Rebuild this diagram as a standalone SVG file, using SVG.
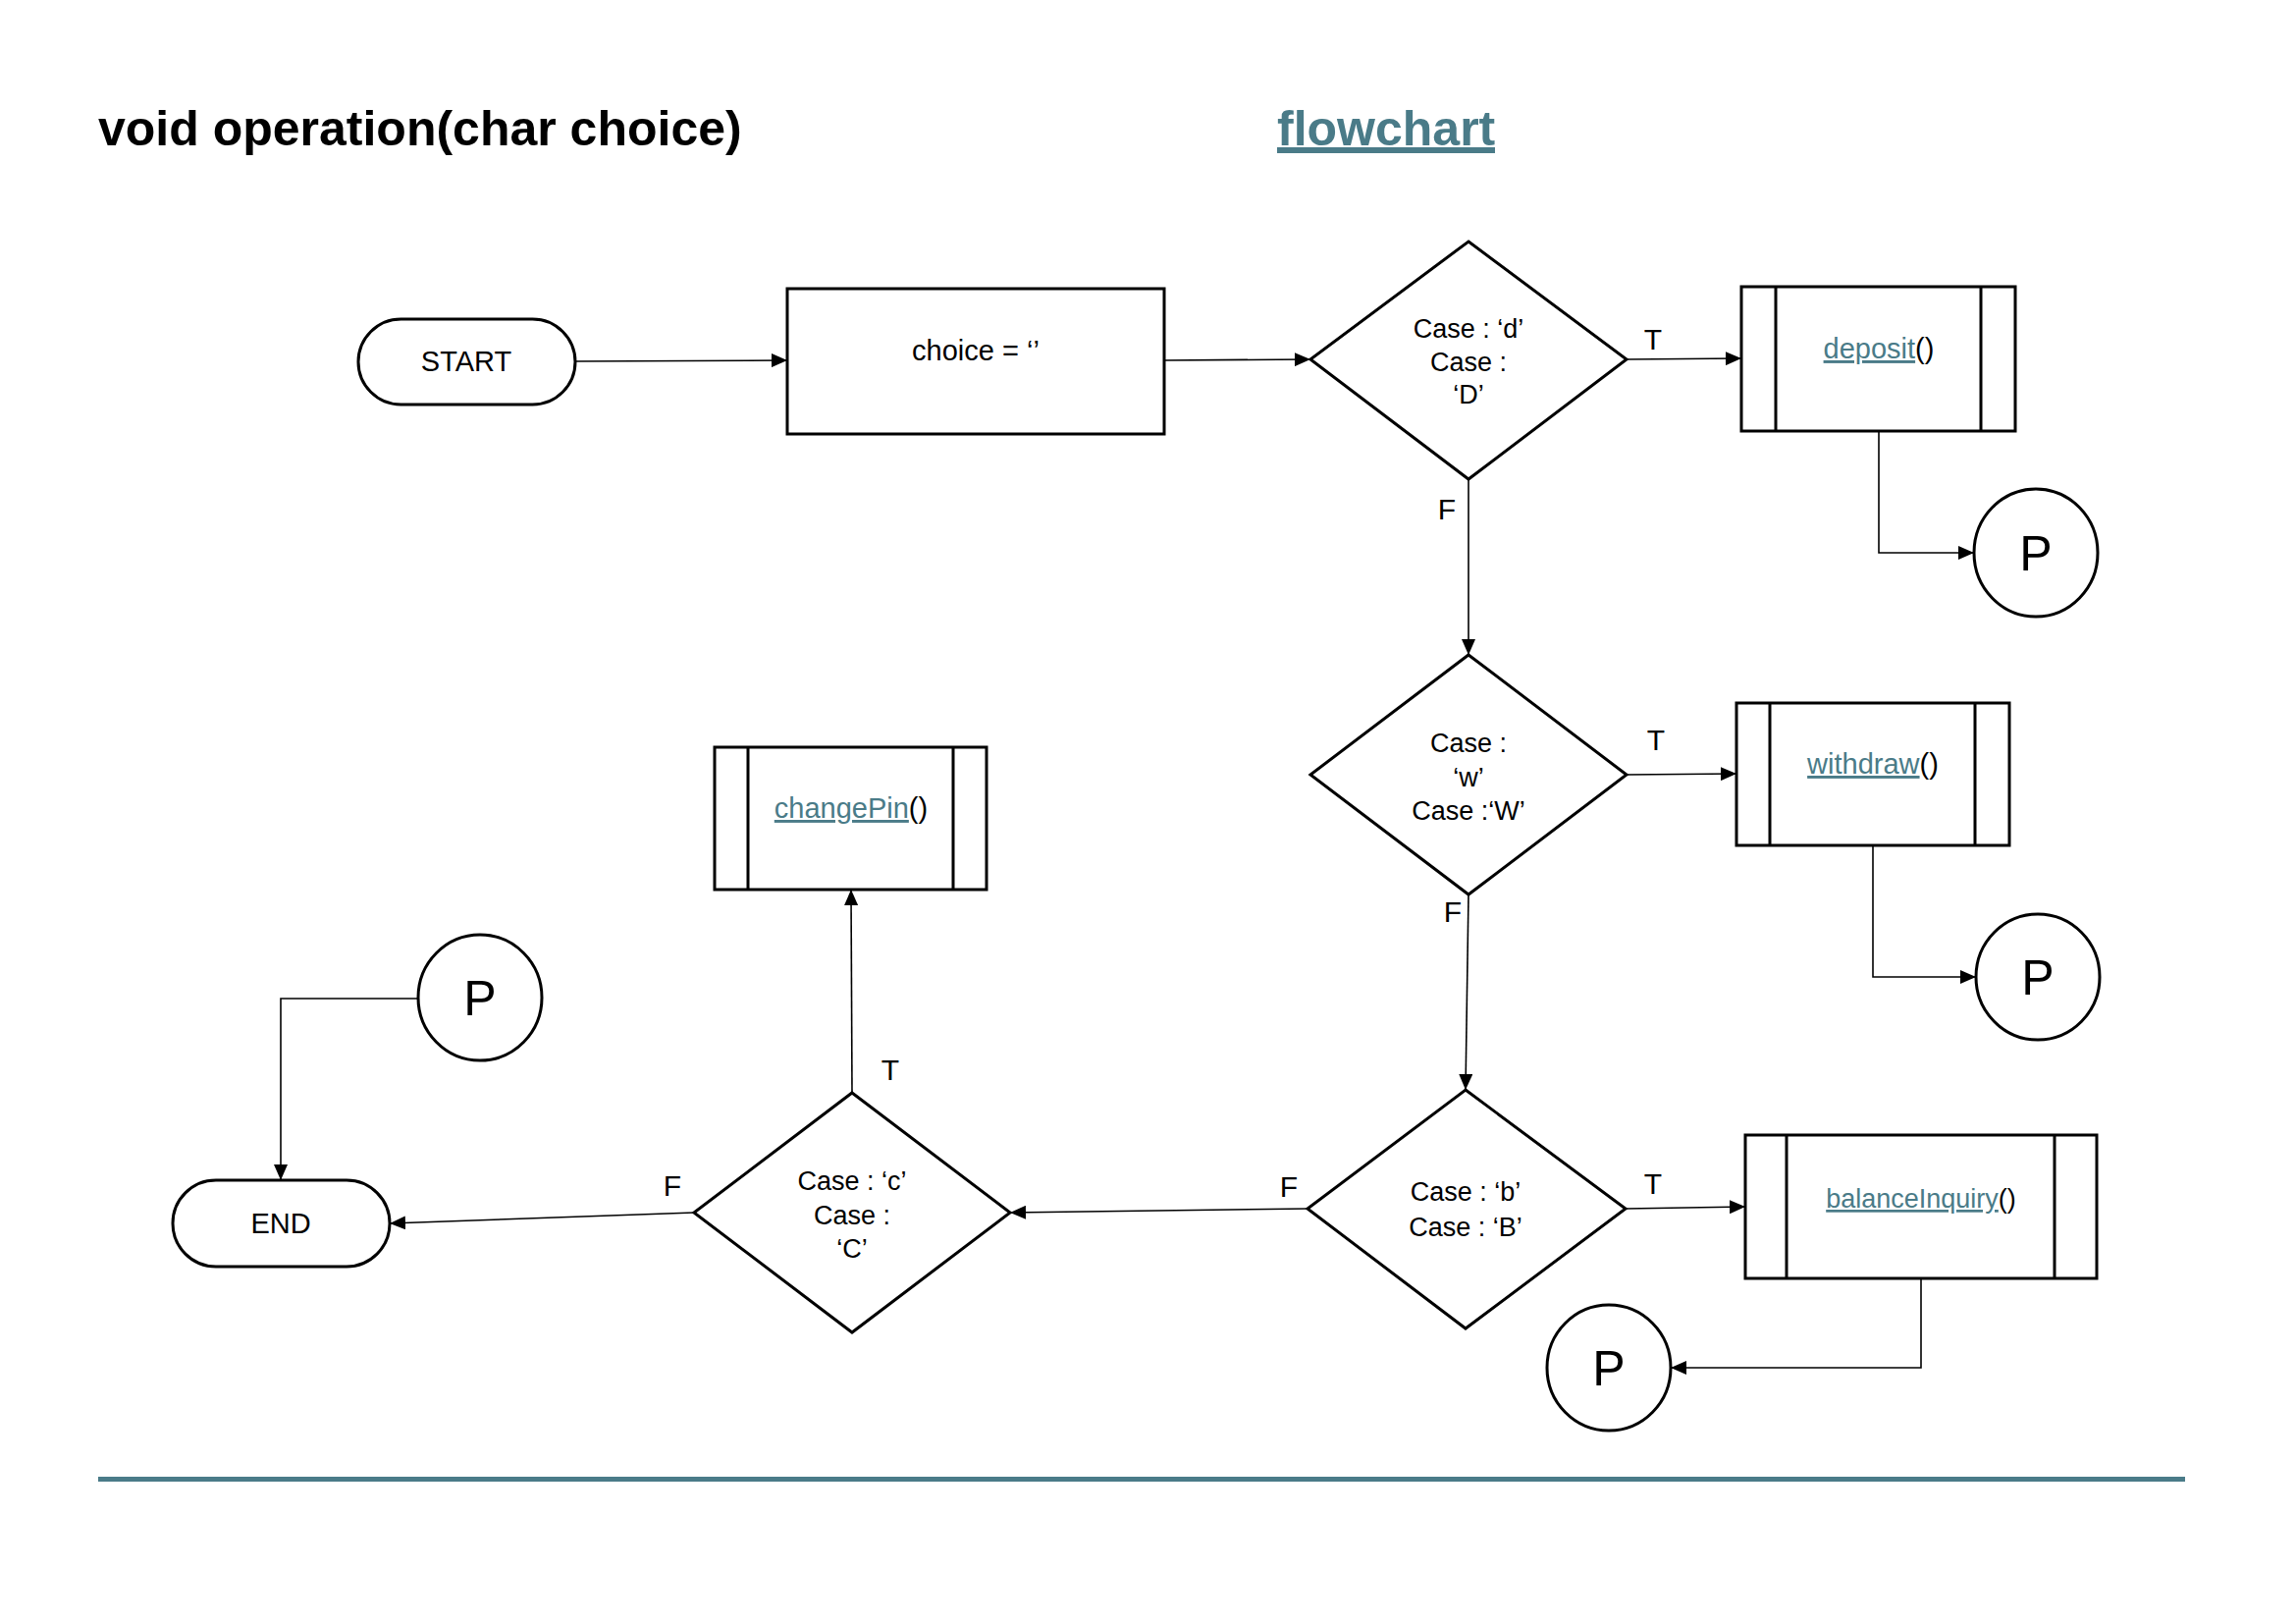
<svg xmlns="http://www.w3.org/2000/svg" width="2339" height="1654" viewBox="0 0 2339 1654">
<style>
text{font-family:"Liberation Sans",Arial,sans-serif;fill:#000}
.node{fill:#fff;stroke:#000;stroke-width:3}
.bar{fill:none;stroke:#000;stroke-width:3}
.conn{fill:none;stroke:#000;stroke-width:1.6}
.lbl{font-size:29px;text-anchor:middle}
.dt{font-size:27px;text-anchor:middle}
.tf{font-size:30px;text-anchor:middle}
.pp{font-size:50px;text-anchor:middle}
.link{fill:#4a7b88;text-decoration:underline}
</style>
<defs>
<marker id="ah" markerWidth="16" markerHeight="14" refX="16" refY="7" orient="auto" markerUnits="userSpaceOnUse">
<path d="M0,0 L16,7 L0,14 Z" fill="#000"/>
</marker>
</defs>
<rect width="2339" height="1654" fill="#fff"/>
<text x="100" y="148" style="font-size:50px;font-weight:bold">void operation(char choice)</text>
<text x="1301" y="148" style="font-size:50px;font-weight:bold;fill:#4a7b88">flowchart</text>
<rect x="1301" y="150" width="222" height="6" fill="#4a7b88"/>
<rect x="100" y="1504" width="2126" height="5" fill="#4a7b88"/>

<g id="connectors">
<path class="conn" d="M586,368 L802,367" marker-end="url(#ah)"/>
<path class="conn" d="M1186,367 L1335,366" marker-end="url(#ah)"/>
<path class="conn" d="M1657,366 L1774,365" marker-end="url(#ah)"/>
<path class="conn" d="M1914,439 L1914,563 L2011,563" marker-end="url(#ah)"/>
<path class="conn" d="M1496,488 L1496,667" marker-end="url(#ah)"/>
<path class="conn" d="M1657,789 L1769,788" marker-end="url(#ah)"/>
<path class="conn" d="M1908,861 L1908,995 L2013,995" marker-end="url(#ah)"/>
<path class="conn" d="M1496,911 L1493,1110" marker-end="url(#ah)"/>
<path class="conn" d="M1656,1231 L1778,1229" marker-end="url(#ah)"/>
<path class="conn" d="M1957,1302 L1957,1393 L1702,1393" marker-end="url(#ah)"/>
<path class="conn" d="M1332,1231 L1029,1235" marker-end="url(#ah)"/>
<path class="conn" d="M868,1113 L867,906" marker-end="url(#ah)"/>
<path class="conn" d="M707,1235 L397,1246" marker-end="url(#ah)"/>
<path class="conn" d="M426,1017 L286,1017 L286,1202" marker-end="url(#ah)"/>
<text class="tf" x="1684" y="356">T</text>
<text class="tf" x="1474" y="529">F</text>
<text class="tf" x="1687" y="764">T</text>
<text class="tf" x="1480" y="939">F</text>
<text class="tf" x="1684" y="1216">T</text>
<text class="tf" x="1313" y="1219">F</text>
<text class="tf" x="907" y="1100">T</text>
<text class="tf" x="685" y="1218">F</text>
</g>

<g id="start">
<rect class="node" x="365" y="325" width="221" height="87" rx="43.5" ry="43.5"/>
<text class="lbl" x="475" y="378">START</text>
</g>
<g id="init">
<rect class="node" x="802" y="294" width="384" height="148"/>
<text class="lbl" x="994" y="367">choice = ‘’</text>
</g>
<g id="case-d">
<polygon class="node" points="1496,246 1657,366 1496,488 1335,366"/>
<text class="dt" x="1496" y="344">Case : ‘d’</text>
<text class="dt" x="1496" y="378">Case :</text>
<text class="dt" x="1496" y="411">‘D’</text>
</g>
<g id="deposit">
<rect class="node" x="1774" y="292" width="279" height="147"/>
<path class="bar" d="M1809,292 V439 M2018,292 V439"/>
<text class="lbl" x="1914" y="365"><tspan class="link">deposit</tspan>()</text>
</g>
<g id="p1">
<ellipse class="node" cx="2074" cy="563" rx="63" ry="65"/>
<text class="pp" x="2074" y="581">P</text>
</g>
<g id="case-w">
<polygon class="node" points="1496,667 1657,789 1496,911 1335,789"/>
<text class="dt" x="1496" y="766">Case :</text>
<text class="dt" x="1496" y="801">‘w’</text>
<text class="dt" x="1496" y="835">Case :‘W’</text>
</g>
<g id="withdraw">
<rect class="node" x="1769" y="716" width="278" height="145"/>
<path class="bar" d="M1803,716 V861 M2012,716 V861"/>
<text class="lbl" x="1908" y="788"><tspan class="link">withdraw</tspan>()</text>
</g>
<g id="p2">
<ellipse class="node" cx="2076" cy="995" rx="63" ry="64"/>
<text class="pp" x="2076" y="1013">P</text>
</g>
<g id="case-b">
<polygon class="node" points="1493,1110 1656,1231 1493,1353 1332,1231"/>
<text class="dt" x="1493" y="1223">Case : ‘b’</text>
<text class="dt" x="1493" y="1259">Case : ‘B’</text>
</g>
<g id="balance">
<rect class="node" x="1778" y="1156" width="358" height="146"/>
<path class="bar" d="M1820,1156 V1302 M2093,1156 V1302"/>
<text class="lbl" x="1957" y="1230" style="font-size:27px"><tspan class="link">balanceInquiry</tspan>()</text>
</g>
<g id="p3">
<ellipse class="node" cx="1639" cy="1393" rx="63" ry="64"/>
<text class="pp" x="1639" y="1411">P</text>
</g>
<g id="case-c">
<polygon class="node" points="868,1113 1029,1235 868,1357 707,1235"/>
<text class="dt" x="868" y="1212">Case : ‘c’</text>
<text class="dt" x="868" y="1247">Case :</text>
<text class="dt" x="868" y="1281">‘C’</text>
</g>
<g id="changepin">
<rect class="node" x="728" y="761" width="277" height="145"/>
<path class="bar" d="M762,761 V906 M971,761 V906"/>
<text class="lbl" x="867" y="833"><tspan class="link">changePin</tspan>()</text>
</g>
<g id="p4">
<ellipse class="node" cx="489" cy="1016" rx="63" ry="64"/>
<text class="pp" x="489" y="1034">P</text>
</g>
<g id="end">
<rect class="node" x="176" y="1202" width="221" height="88" rx="44" ry="44"/>
<text class="lbl" x="286" y="1256">END</text>
</g>
</svg>
